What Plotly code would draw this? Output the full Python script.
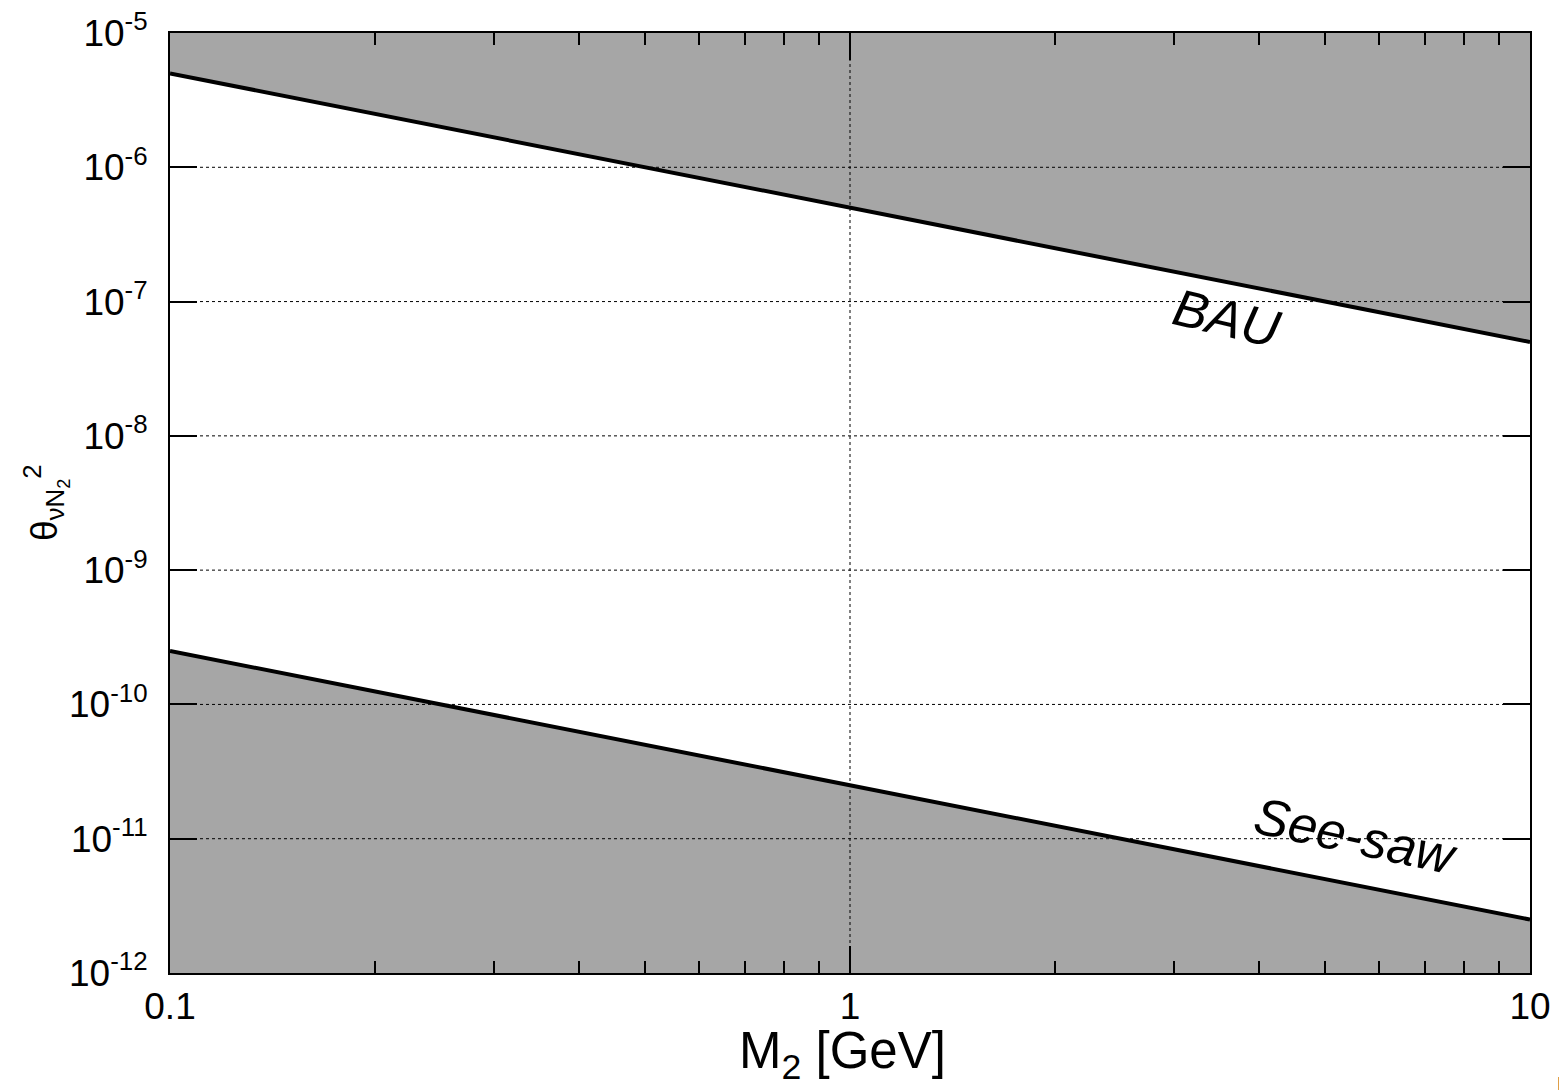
import plotly.graph_objects as go

# ---- data ----
mass = [0.1, 1.0, 10.0]                 # M2 [GeV]
bau = [5e-6, 5e-7, 5e-8]                # BAU upper bound
seesaw = [2.5e-10, 2.5e-11, 2.5e-12]    # See-saw lower bound
y_top = 1e-5
y_bottom = 1e-12

x_tickvals = [0.1, 1, 10]
x_ticktext = ["0.1", "1", "10"]
x_minor = [m * 10 ** e for e in (-1, 0) for m in range(2, 10)]
y_exps = [-12, -11, -10, -9, -8, -7, -6, -5]
y_tickvals = [10.0 ** e for e in y_exps]
y_ticktext = ["10<sup>%d</sup>" % e for e in y_exps]

GRAY = "#a6a6a6"
FONT = "Liberation Sans, Arial, sans-serif"

# page body has an 8px default margin; size the figure so the plot area lands
# at screen x 170..1530, y 33..973
OFF = 8
W, H = 1567 - OFF, 1090 - OFF
L, T = 170 - OFF, 33 - OFF
PW, PH = 1360, 940
R, B = W - L - PW, H - T - PH

fig = go.Figure()
# upper excluded region (above BAU)
fig.add_trace(go.Scatter(x=mass, y=[y_top] * len(mass), mode="lines",
                         line=dict(width=0), showlegend=False, hoverinfo="skip"))
fig.add_trace(go.Scatter(x=mass, y=bau, mode="lines", fill="tonexty",
                         fillcolor=GRAY, line=dict(color="black", width=4),
                         showlegend=False))
# lower excluded region (below see-saw)
fig.add_trace(go.Scatter(x=mass, y=[y_bottom] * len(mass), mode="lines",
                         line=dict(width=0), showlegend=False, hoverinfo="skip"))
fig.add_trace(go.Scatter(x=mass, y=seesaw, mode="lines", fill="tonexty",
                         fillcolor=GRAY, line=dict(color="black", width=4),
                         showlegend=False))

# dotted grid above the filled regions
shapes = []
for v in y_tickvals[1:-1]:
    shapes.append(dict(type="line", xref="paper", x0=0, x1=1, yref="y", y0=v, y1=v,
                       layer="above", line=dict(color="black", width=1, dash="dot")))
for v in x_tickvals[1:-1]:
    shapes.append(dict(type="line", yref="paper", y0=0, y1=1, xref="x", x0=v, x1=v,
                       layer="above", line=dict(color="black", width=1, dash="dot")))

axis_common = dict(showline=True, linecolor="black", linewidth=2, mirror="ticks",
                   ticks="inside", ticklen=27, tickwidth=2, tickcolor="black",
                   showgrid=False, zeroline=False, layer="above traces",
                   automargin=False, ticklabeloverflow="allow",
                   tickfont=dict(family=FONT, size=37, color="black"))


def px_x(sx):
    # screen pixel -> paper coordinate
    return (sx - OFF - L) / PW


def px_y(sy):
    return 1 - (sy - OFF - T) / PH


fig.update_layout(
    width=W, height=H,
    margin=dict(l=L, r=R, t=T, b=B, autoexpand=False),
    plot_bgcolor="white", paper_bgcolor="white",
    font=dict(family=FONT, color="black"),
    shapes=shapes,
    xaxis=dict(type="log", range=[-1, 1], tickmode="array",
               tickvals=x_tickvals, ticktext=x_ticktext, ticklabelstandoff=0,
               minor=dict(tickmode="array", tickvals=x_minor, ticks="inside",
                          ticklen=12, tickwidth=2, tickcolor="black", showgrid=False),
               **axis_common),
    yaxis=dict(type="log", range=[-12, -5], tickmode="array",
               tickvals=y_tickvals, ticktext=y_ticktext, ticklabelstandoff=13,
               **axis_common),
    annotations=[
        dict(text="M<sub>2</sub> [GeV]", xref="paper", yref="paper",
             x=px_x(842), y=px_y(1089), xanchor="center", yanchor="bottom",
             showarrow=False, font=dict(family=FONT, size=51, color="black")),
        dict(text="θ<sub>νN<sub>2</sub></sub><sup>2</sup>", xref="paper", yref="paper",
             x=px_x(46), y=px_y(503), xanchor="center", yanchor="middle",
             textangle=-90, showarrow=False,
             font=dict(family=FONT, size=37, color="black")),
        dict(text="<i>BAU</i>", xref="paper", yref="paper", x=px_x(1226), y=px_y(318),
             xanchor="center", yanchor="middle", textangle=13, showarrow=False,
             font=dict(family=FONT, size=52, color="black")),
        dict(text="<i>See-saw</i>", xref="paper", yref="paper", x=px_x(1356), y=px_y(836),
             xanchor="center", yanchor="middle", textangle=12, showarrow=False,
             font=dict(family=FONT, size=52, color="black")),
        dict(text="F", xref="paper", yref="paper", x=px_x(1555),
             y=px_y(1071), xanchor="left", yanchor="top", showarrow=False,
             font=dict(family=FONT, size=20, color="black")),
    ],
)

fig.write_html("out.html")
